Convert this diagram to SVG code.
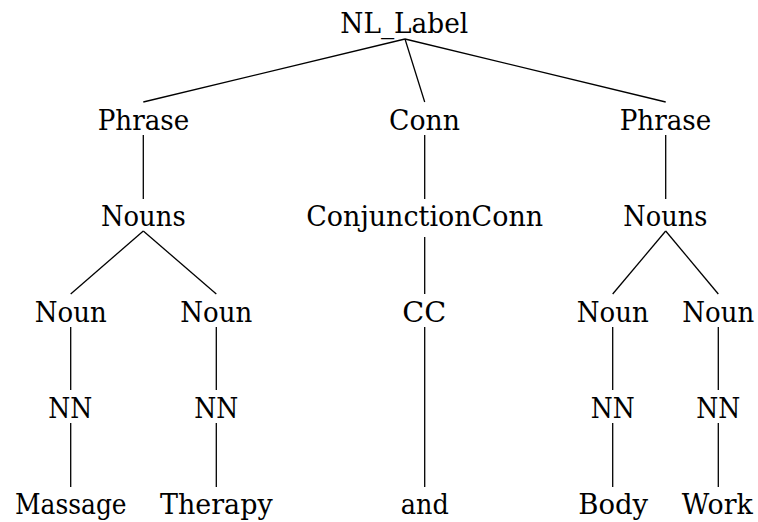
<svg xmlns="http://www.w3.org/2000/svg" width="758" height="522" viewBox="0 0 758 522">
<defs>
<style>
text{font-family:"DejaVu Serif","Liberation Serif","Noto Serif",Georgia,serif;font-size:27px;fill:#000;text-anchor:middle}
.e line{stroke:#000;stroke-width:1.3;fill:none}
</style>
</defs>
<rect width="758" height="522" fill="#fff"/>
<g class="e" id="connectors">
<line x1="405" y1="39" x2="143.3" y2="102"/>
<line x1="405" y1="39" x2="424.7" y2="102"/>
<line x1="405" y1="39" x2="665.7" y2="102"/>
<line x1="143.3" y1="135" x2="143.3" y2="199"/>
<line x1="424.7" y1="135" x2="424.7" y2="199"/>
<line x1="665.7" y1="135" x2="665.7" y2="199"/>
<line x1="143.3" y1="231" x2="70.7" y2="294"/>
<line x1="143.3" y1="231" x2="216.3" y2="294"/>
<line x1="424.7" y1="237" x2="424.7" y2="294"/>
<line x1="665.7" y1="231" x2="612.7" y2="294"/>
<line x1="665.7" y1="231" x2="718.3" y2="294"/>
<line x1="70.7" y1="327" x2="70.7" y2="390"/>
<line x1="216.3" y1="327" x2="216.3" y2="390"/>
<line x1="424.7" y1="327" x2="424.7" y2="487"/>
<line x1="612.7" y1="327" x2="612.7" y2="390"/>
<line x1="718.3" y1="327" x2="718.3" y2="390"/>
<line x1="70.7" y1="423" x2="70.7" y2="487"/>
<line x1="216.3" y1="423" x2="216.3" y2="487"/>
<line x1="612.7" y1="423" x2="612.7" y2="487"/>
<line x1="718.3" y1="423" x2="718.3" y2="487"/>
</g>
<g id="root"><text x="404.3" y="33" textLength="128" lengthAdjust="spacingAndGlyphs">NL_Label</text></g>
<g id="phrase1"><text x="143.5" y="130" textLength="91.6" lengthAdjust="spacingAndGlyphs">Phrase</text></g>
<g id="conn"><text x="424.5" y="130" textLength="71" lengthAdjust="spacingAndGlyphs">Conn</text></g>
<g id="phrase2"><text x="665.5" y="130" textLength="91.6" lengthAdjust="spacingAndGlyphs">Phrase</text></g>
<g id="nouns1"><text x="143.3" y="226" textLength="84.7" lengthAdjust="spacingAndGlyphs">Nouns</text></g>
<g id="conjconn"><text x="424.7" y="226" textLength="237" lengthAdjust="spacingAndGlyphs">ConjunctionConn</text></g>
<g id="nouns2"><text x="665.3" y="226" textLength="84" lengthAdjust="spacingAndGlyphs">Nouns</text></g>
<g id="noun1"><text x="70.7" y="322" textLength="72" lengthAdjust="spacingAndGlyphs">Noun</text></g>
<g id="noun2"><text x="216.2" y="322" textLength="72" lengthAdjust="spacingAndGlyphs">Noun</text></g>
<g id="cc"><text x="424.3" y="322" textLength="44" lengthAdjust="spacingAndGlyphs">CC</text></g>
<g id="noun3"><text x="612.7" y="322" textLength="72" lengthAdjust="spacingAndGlyphs">Noun</text></g>
<g id="noun4"><text x="718.3" y="322" textLength="72" lengthAdjust="spacingAndGlyphs">Noun</text></g>
<g id="nn1"><text x="70.3" y="418" textLength="44" lengthAdjust="spacingAndGlyphs">NN</text></g>
<g id="nn2"><text x="216.3" y="418" textLength="44" lengthAdjust="spacingAndGlyphs">NN</text></g>
<g id="nn3"><text x="612.7" y="418" textLength="44" lengthAdjust="spacingAndGlyphs">NN</text></g>
<g id="nn4"><text x="718.3" y="418" textLength="44" lengthAdjust="spacingAndGlyphs">NN</text></g>
<g id="massage"><text x="70.8" y="514" textLength="111.7" lengthAdjust="spacingAndGlyphs">Massage</text></g>
<g id="therapy"><text x="216.3" y="514" textLength="112.7" lengthAdjust="spacingAndGlyphs">Therapy</text></g>
<g id="and"><text x="424.8" y="514" textLength="48" lengthAdjust="spacingAndGlyphs">and</text></g>
<g id="body"><text x="613.2" y="514" textLength="70" lengthAdjust="spacingAndGlyphs">Body</text></g>
<g id="work"><text x="717.3" y="514" textLength="71" lengthAdjust="spacingAndGlyphs">Work</text></g>
</svg>
